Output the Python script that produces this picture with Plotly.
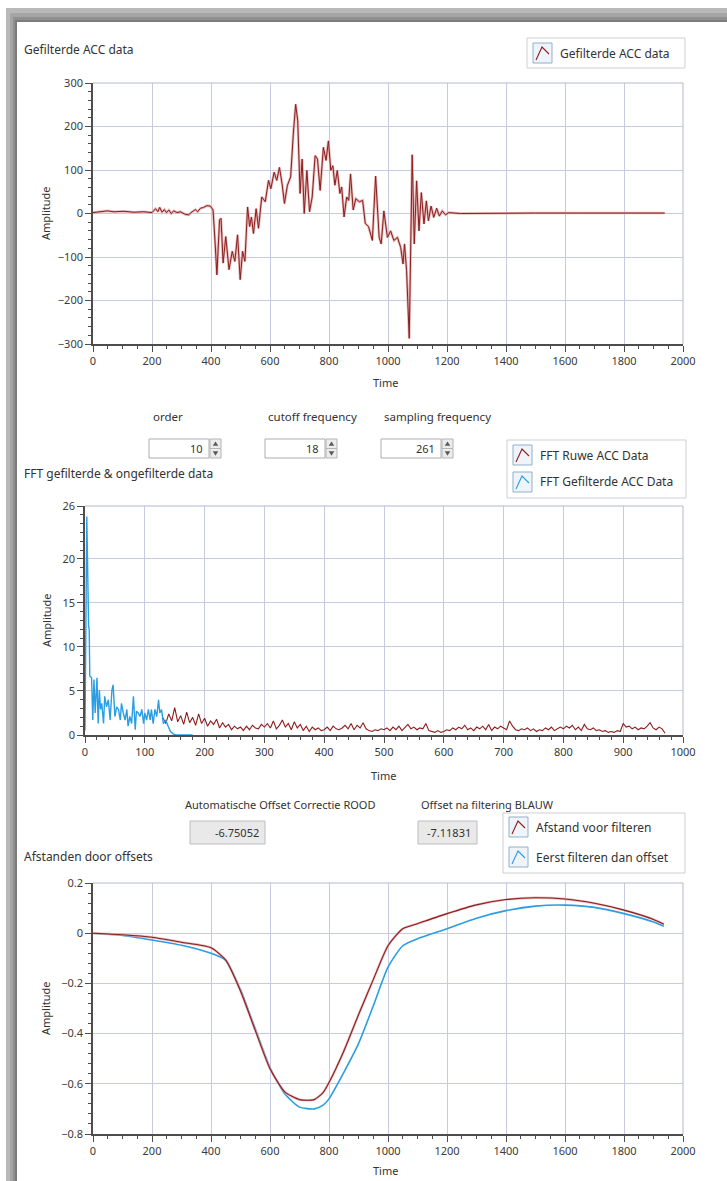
import plotly.graph_objects as go

W, H = 727, 1181

# ---------------- data ----------------
# filtered acceleration signal
acc_time = [0, 26, 48, 71, 105, 139, 172, 200, 212, 220, 226, 234, 242, 249, 257, 265,
            274, 285, 296, 313, 324, 336, 347, 355, 364, 375, 386, 398, 407, 414, 420,
            429, 434, 441, 450, 461, 472, 481, 490, 499, 507, 515, 524, 531, 537, 544,
            553, 561, 572, 584, 595, 603, 614, 623, 632, 641, 649, 659, 670, 679, 687,
            694, 702, 709, 716, 725, 734, 743, 753, 761, 770, 781, 790, 798, 806, 813,
            820, 828, 837, 843, 851, 860, 867, 873, 882, 891, 903, 914, 923, 934, 947,
            958, 970, 977, 986, 998, 1009, 1020, 1032, 1043, 1051, 1056, 1063, 1072,
            1082, 1089, 1097, 1105, 1113, 1122, 1130, 1137, 1146, 1155, 1165, 1174,
            1184, 1195, 1206, 1246, 1358, 1500, 1650, 1800, 1938]
acc_value = [2, 5, 6, 4, 5, 3, 4, 2, 11, 4, 14, 3, 9, 2, 8, 0,
             6, 2, 4, -2, -3, 4, 9, 4, 12, 14, 18, 17, 8, -68, -141,
             -15, -11, -114, -53, -129, -87, -110, -49, -152, -87, -110, 15, -30, -8, -46,
             11, -34, 38, 27, 76, 57, 95, 76, 106, 68, 23, 65, 84, 183, 251,
             213, 46, 125, 0, 99, 4, 38, 133, 125, 53, 152, 122, 167, 99, 110,
             65, 99, 46, 61, -8, 38, 30, 91, 8, 34, 27, 30, -23, -30, -62,
             86, -55, -70, 6, -55, -40, -62, -55, -78, -116, -70, -131, -287,
             135, -70, 75, -40, 48, -24, 29, -17, 17, -9, 12, -6,
             6, -3, 2, 0, 1, 1, 1, 1, 1]

# FFT of the raw signal
fft_raw_freq = list(range(130, 975, 5))
fft_raw_amp = [
    2.0, 1.3, 2.4, 1.6, 3.1, 1.5, 2.2, 1.2, 2.6, 1.4, 2.0, 1.1, 2.4, 1.3,
    1.9, 1.0, 1.6, 1.2, 1.8, 0.8, 1.4, 0.9, 1.2, 0.6, 1.0, 0.7, 0.9, 0.5, 1.0, 0.6, 1.1, 0.8, 0.7, 1.2,
    0.9, 1.3, 0.8, 1.6, 0.7, 1.1, 1.7, 0.9, 1.3, 0.6, 1.5, 0.8, 1.2, 0.5, 1.0, 0.4, 0.9, 0.6, 0.8, 0.5,
    0.6, 0.9, 0.5, 1.0, 0.7, 0.6, 0.8, 1.1, 0.7, 1.3, 0.6, 1.1, 0.8, 1.4, 0.7, 0.5, 0.4, 0.6, 0.5, 0.7,
    0.6, 0.8, 0.5, 0.9, 0.6, 1.0, 0.5, 0.8, 1.2, 0.7, 0.9, 0.6, 0.8, 0.7, 1.3, 0.5, 0.4, 0.3, 0.5, 0.3,
    0.4, 0.6, 0.5, 0.8, 0.6, 0.9, 0.7, 1.1, 0.6, 0.8, 0.5, 0.9, 0.7, 1.0, 0.6, 1.2, 0.5, 0.9, 0.7, 1.0,
    0.8, 0.6, 1.6, 1.0, 0.6, 0.5, 0.7, 0.6, 0.8, 0.5, 0.7, 0.4, 0.6, 0.5, 0.8, 0.6, 0.9, 0.5, 0.7, 0.9,
    0.7, 1.0, 0.8, 1.1, 0.6, 0.9, 0.5, 1.2, 0.7, 0.6, 0.8, 0.5, 0.6, 0.4, 0.5, 0.3, 0.4, 0.3, 0.5, 0.4,
    1.3, 0.9, 1.0, 0.7, 0.9, 0.6, 0.8, 0.7, 1.0, 1.4, 0.8, 0.6, 0.9, 0.7, 0.2]

# FFT of the filtered signal
fft_filt_freq = [0, 3, 6, 7, 8, 11, 13, 15, 17, 20, 22, 24, 26, 28, 31, 33, 36, 39, 42, 45,
                 47, 50, 53, 56, 59, 61, 64, 67, 70, 72, 75, 78, 81, 84, 86, 89, 92, 95, 98,
                 100, 103, 106, 109, 111, 114, 117, 120, 123, 125, 128, 131, 135, 139, 143,
                 148, 153, 180]
fft_filt_amp = [0.5, 24.8, 12.4, 12.0, 6.7, 6.5, 1.7, 6.3, 2.5, 6.5, 1.3, 5.1, 2.9, 3.6, 1.3,
                4.4, 3.2, 4.0, 1.7, 5.1, 5.7, 2.1, 3.2, 2.9, 1.7, 3.6, 2.5, 1.7, 2.9, 1.0,
                2.1, 1.3, 4.4, 0.6, 2.7, 2.5, 2.1, 2.9, 1.3, 2.5, 1.7, 2.9, 1.7, 2.9, 1.3,
                2.9, 2.1, 4.0, 2.5, 2.9, 1.3, 1.7, 1.0, 0.4, 0.1, 0.0, 0.0]

# distance obtained with both offset corrections
dist_time = [0, 100, 200, 300, 400, 450, 500, 550, 600, 650, 700, 750, 780, 800, 850, 900,
             950, 1000, 1050, 1100, 1200, 1300, 1400, 1500, 1600, 1700, 1800, 1900, 1935]
dist_raw = [0, -0.006, -0.016, -0.036, -0.058, -0.107, -0.23, -0.387, -0.54, -0.632, -0.663,
            -0.663, -0.635, -0.595, -0.47, -0.325, -0.185, -0.05, 0.018, 0.038, 0.078, 0.113,
            0.134, 0.141, 0.136, 0.119, 0.092, 0.055, 0.036]
dist_filtered = [0, -0.009, -0.027, -0.048, -0.08, -0.108, -0.225, -0.38, -0.535, -0.64, -0.693,
                 -0.70, -0.685, -0.66, -0.555, -0.44, -0.29, -0.135, -0.05, -0.022, 0.018, 0.06,
                 0.09, 0.108, 0.112, 0.103, 0.078, 0.045, 0.028]

order_value = "10"
cutoff_value = "18"
sampling_value = "261"
offset_red = "-6.75052"
offset_blue = "-7.11831"

# ---------------- styling ----------------
FONT = "Noto Sans"
TXT = "#333333"
RED = "#8c1d1d"
RED_HALO = "rgba(222,165,165,0.8)"
BLUE = "#2a9de4"
GRID = "#c8cae3"
AXIS = "#4d4d4d"
PLOT_BG = "#f3f4f9"


def px(x):
    return x / W


def py(y):
    return 1 - y / H


def xdom(a, b):
    return [a / W, b / W]


def ydom(top, bottom):
    return [1 - bottom / H, 1 - top / H]


def axis(**kw):
    base = dict(showgrid=True, gridcolor=GRID, gridwidth=1, zeroline=False, automargin=False,
                showline=True, linecolor=AXIS, linewidth=1.6, ticks="outside",
                ticklen=6, tickwidth=1, tickcolor=AXIS, fixedrange=True,
                tickfont=dict(family=FONT, size=11, color="#3a3a3a"))
    base.update(kw)
    return base


def minor(d):
    return dict(dtick=d, ticklen=3.5, tickwidth=1, tickcolor=AXIS, showgrid=False, ticks="outside")


fig = go.Figure()

# chart 1: filtered acceleration
fig.add_trace(go.Scatter(x=acc_time, y=acc_value, mode="lines", xaxis="x", yaxis="y",
                         line=dict(color=RED_HALO, width=2.6), hoverinfo="skip", showlegend=False))
fig.add_trace(go.Scatter(x=acc_time, y=acc_value, mode="lines", xaxis="x", yaxis="y",
                         name="Gefilterde ACC data", line=dict(color=RED, width=1.0), showlegend=False))

# chart 2: spectra
fig.add_trace(go.Scatter(x=fft_raw_freq, y=fft_raw_amp, mode="lines", xaxis="x2", yaxis="y2",
                         name="FFT Ruwe ACC Data", line=dict(color=RED, width=1.1), showlegend=False))
fig.add_trace(go.Scatter(x=fft_filt_freq, y=fft_filt_amp, mode="lines", xaxis="x2", yaxis="y2",
                         name="FFT Gefilterde ACC Data", line=dict(color=BLUE, width=1.4), showlegend=False))

# chart 3: distances
fig.add_trace(go.Scatter(x=dist_time, y=dist_filtered, mode="lines", xaxis="x3", yaxis="y3",
                         name="Eerst filteren dan offset",
                         line=dict(color=BLUE, width=1.6, shape="spline", smoothing=0.6),
                         showlegend=False))
fig.add_trace(go.Scatter(x=dist_time, y=dist_raw, mode="lines", xaxis="x3", yaxis="y3",
                         line=dict(color=RED_HALO, width=2.4, shape="spline", smoothing=0.6),
                         hoverinfo="skip", showlegend=False))
fig.add_trace(go.Scatter(x=dist_time, y=dist_raw, mode="lines", xaxis="x3", yaxis="y3",
                         name="Afstand voor filteren",
                         line=dict(color=RED, width=1.1, shape="spline", smoothing=0.6),
                         showlegend=False))

shapes = []
ann = []

# window frame with shadow
for x0, y0, col in [(6, 8, "#b9b9b9"), (10, 13, "#a5a5a5"), (13, 17, "#8f8f8f"), (15, 20, "#7c7c7c")]:
    shapes.append(dict(type="rect", xref="paper", yref="paper", x0=px(x0), x1=1.05, y0=-0.05, y1=py(y0),
                       fillcolor=col, line=dict(width=0), layer="below"))
shapes.append(dict(type="rect", xref="paper", yref="paper", x0=px(17), x1=1.05, y0=-0.05, y1=py(22),
                   fillcolor="white", line=dict(width=0), layer="below"))

# light frame on the top and right of every plot area
for xa, ya in [("x", "y"), ("x2", "y2"), ("x3", "y3")]:
    shapes.append(dict(type="line", xref=f"{xa} domain", yref=f"{ya} domain", x0=0, x1=1, y0=1, y1=1,
                       line=dict(color="#b4b7cc", width=1)))
    shapes.append(dict(type="line", xref=f"{xa} domain", yref=f"{ya} domain", x0=1, x1=1, y0=0, y1=1,
                       line=dict(color="#b4b7cc", width=1)))


def text(x, y, s, anchor="left", size=11, color=TXT, angle=0):
    ann.append(dict(xref="paper", yref="paper", x=px(x), y=py(y), text=s, showarrow=False,
                    xanchor=anchor, yanchor="middle", textangle=angle,
                    font=dict(family=FONT, size=size, color=color)))


def rect(x0, y0, x1, y1, fill, line_col, width=1):
    shapes.append(dict(type="rect", xref="paper", yref="paper", x0=px(x0), x1=px(x1),
                       y0=py(y1), y1=py(y0), fillcolor=fill, line=dict(color=line_col, width=width)))


def legend_entry(ix, iy, color, label):
    rect(ix, iy, ix + 19, iy + 20, "#eef4fa", "#8fb0c8")
    path = (f"M {px(ix + 3)},{py(iy + 17)} L {px(ix + 9)},{py(iy + 4)} "
            f"L {px(ix + 16)},{py(iy + 11)}")
    shapes.append(dict(type="path", xref="paper", yref="paper", path=path,
                       line=dict(color=color, width=1.1)))
    text(ix + 25, iy + 10, label, size=12)


def spin_box(x0, y0, x1, y1, value):
    rect(x0, y0, x1, y1, "white", "#abadb3")
    text(x1 - 4, (y0 + y1) / 2, value, anchor="right")
    mid = (y0 + y1) / 2
    rect(x1 + 1, y0, x1 + 12, mid, "#ececec", "#b5b5b5")
    rect(x1 + 1, mid, x1 + 12, y1, "#ececec", "#b5b5b5")
    cx = x1 + 6.5
    h = (y1 - y0) / 2
    up = (f"M {px(cx - 2.8)},{py(mid - h * 0.3)} L {px(cx + 2.8)},{py(mid - h * 0.3)} "
          f"L {px(cx)},{py(mid - h * 0.75)} Z")
    dn = (f"M {px(cx - 2.8)},{py(mid + h * 0.3)} L {px(cx + 2.8)},{py(mid + h * 0.3)} "
          f"L {px(cx)},{py(mid + h * 0.75)} Z")
    for p in (up, dn):
        shapes.append(dict(type="path", xref="paper", yref="paper", path=p,
                           fillcolor="#5a5a5a", line=dict(width=0)))


def readout(x0, y0, x1, y1, value):
    rect(x0, y0, x1, y1, "#e9e9e9", "#bdbdbd")
    text(x1 - 4, (y0 + y1) / 2, value, anchor="right")


# chart 1 texts and legend
text(22, 50, "Gefilterde ACC data", size=12)
rect(527, 38, 685, 68, "white", "#cfcfcf")
legend_entry(533, 43, RED, "Gefilterde ACC data")
text(45, 213, "Amplitude", anchor="center", angle=-90)
text(385, 382, "Time", anchor="center")

# filter settings
text(168, 417, "order", anchor="center", size=11.5)
text(312, 417, "cutoff frequency", anchor="center", size=11.5)
text(437, 417, "sampling frequency", anchor="center", size=11.5)
spin_box(149, 439, 209, 458, order_value)
spin_box(265, 439, 325, 458, cutoff_value)
spin_box(381, 439, 441, 458, sampling_value)

# chart 2 texts and legend
text(22, 474, "FFT gefilterde & ongefilterde data", size=12)
rect(507, 440, 686, 498, "white", "#cfcfcf")
legend_entry(513, 445, RED, "FFT Ruwe ACC Data")
legend_entry(513, 472, BLUE, "FFT Gefilterde ACC Data")
text(46, 620, "Amplitude", anchor="center", angle=-90)
text(384, 775, "Time", anchor="center")

# offset readouts
text(280, 804, "Automatische Offset Correctie ROOD", anchor="center")
text(487, 804, "Offset na filtering BLAUW", anchor="center")
readout(190, 821, 265, 844, offset_red)
readout(418, 821, 477, 844, offset_blue)

# chart 3 texts and legend
text(22, 856, "Afstanden door offsets", size=12)
rect(503, 813, 685, 873, "white", "#cfcfcf")
legend_entry(509, 817, RED, "Afstand voor filteren")
legend_entry(509, 847, BLUE, "Eerst filteren dan offset")
text(45, 1008, "Amplitude", anchor="center", angle=-90)
text(385, 1170, "Time", anchor="center")

fig.update_layout(
    width=W, height=H, autosize=False,
    margin=dict(l=0, r=0, t=0, b=0, pad=0, autoexpand=False),
    paper_bgcolor="white", plot_bgcolor=PLOT_BG,
    showlegend=False, shapes=shapes, annotations=ann,
    font=dict(family=FONT, size=11, color=TXT),
    xaxis=axis(domain=xdom(93, 683), range=[0, 2000], dtick=200, minor=minor(50), anchor="y"),
    yaxis=axis(domain=ydom(83, 344), range=[-300, 300], dtick=100, minor=minor(20), anchor="x"),
    xaxis2=axis(domain=xdom(85, 683), range=[0, 1000], dtick=100, minor=minor(20), anchor="y2"),
    yaxis2=axis(domain=ydom(506, 735), range=[0, 26], tickmode="array",
                tickvals=[0, 5, 10, 15, 20, 26], minor=minor(1), anchor="x2"),
    xaxis3=axis(domain=xdom(93, 683), range=[0, 2000], dtick=200, minor=minor(50), anchor="y3"),
    yaxis3=axis(domain=ydom(883, 1134), range=[-0.8, 0.2], dtick=0.2, minor=minor(0.04),
                anchor="x3", tickformat="~g"),
)

# keep the page itself free of margins and scrollbars
PAGE = ("document.documentElement.style.overflow='hidden';"
        "document.body.style.margin='0';document.body.style.overflow='hidden';")

fig.write_html("out.html", config={"responsive": False, "displayModeBar": False}, post_script=PAGE)
